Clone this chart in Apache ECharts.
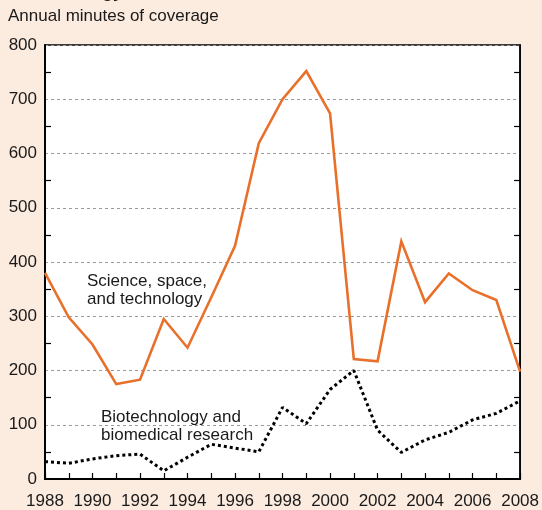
<!DOCTYPE html>
<html>
<head>
<meta charset="utf-8">
<script src="https://cdn.jsdelivr.net/npm/echarts@6/dist/echarts.min.js"></script>
<style>
  html, body { margin: 0; padding: 0; background: #fcebdf; }
  #chart { width: 542px; height: 510px; }
</style>
</head>
<body>
<div id="chart"></div>
<script>
// Annual network news minutes of coverage, 1988-2008
const years = [1988, 1989, 1990, 1991, 1992, 1993, 1994, 1995, 1996, 1997, 1998,
               1999, 2000, 2001, 2002, 2003, 2004, 2005, 2006, 2007, 2008];
const science = [380, 298, 248, 175, 183, 295, 242, 335, 430, 619, 700,
                 752, 674, 221, 217, 438, 326, 379, 348, 330, 198];
const biotech = [32, 29, 37, 43, 46, 15, 40, 64, 57, 50, 132,
                 102, 165, 200, 90, 49, 72, 86, 109, 121, 144];
const yTicks = [0, 100, 200, 300, 400, 500, 600, 700, 800];
const xTicks = [1988, 1990, 1992, 1994, 1996, 1998, 2000, 2002, 2004, 2006, 2008];

const FONT = '"Liberation Sans", Arial, Helvetica, sans-serif';
const pairs = vals => years.map((y, i) => [y, vals[i]]);

const chart = echarts.init(document.getElementById('chart'), null, { renderer: 'canvas' });

chart.setOption({
  backgroundColor: '#fcebdf',
  animation: false,
  grid: {
    left: 45, right: 20, top: 45, bottom: 30,
    show: true, backgroundColor: '#ffffff',
    borderColor: '#000', borderWidth: 1.5
  },
  xAxis: {
    type: 'value',
    min: xTicks[0], max: xTicks[xTicks.length - 1], interval: 2,
    axisLine: { show: true, lineStyle: { color: '#000', width: 2 } },
    axisTick: { show: true, inside: true, length: 6, lineStyle: { color: '#000', width: 1.2 } },
    minorTick: { show: true, splitNumber: 2, length: 6, lineStyle: { color: '#000', width: 1.2 } },
    splitLine: { show: false },
    axisLabel: {
      color: '#1a1a1a', fontSize: 17, fontFamily: FONT, margin: 14,
      formatter: v => String(v)
    }
  },
  yAxis: [{
    type: 'value', position: 'left',
    min: yTicks[0], max: yTicks[yTicks.length - 1], interval: 100,
    axisLine: { show: true, lineStyle: { color: '#000', width: 2 } },
    axisTick: { show: false, inside: true },
    minorTick: { show: true, splitNumber: 2, length: 6, lineStyle: { color: '#000', width: 1.2 } },
    splitLine: { show: true, lineStyle: { color: '#9a9a9a', width: 1, type: [3, 3] } },
    axisLabel: { color: '#1a1a1a', fontSize: 17, fontFamily: FONT, margin: 8 }
  }, {
    type: 'value', position: 'right',
    min: yTicks[0], max: yTicks[yTicks.length - 1], interval: 100,
    axisLine: { show: true, lineStyle: { color: '#000', width: 1.5 } },
    axisTick: { show: false, inside: true },
    minorTick: { show: true, splitNumber: 2, length: 6, lineStyle: { color: '#000', width: 1.2 } },
    splitLine: { show: false },
    axisLabel: { show: false }
  }],
  series: [{
    name: 'Science, space, and technology',
    type: 'line',
    data: pairs(science),
    symbol: 'none',
    lineStyle: { color: '#e8702a', width: 2.6, join: 'miter' },
    z: 3
  }, {
    name: 'Biotechnology and biomedical research',
    type: 'line',
    data: pairs(biotech),
    symbol: 'none',
    lineStyle: { color: '#000', width: 3, type: [3, 3], cap: 'butt' },
    z: 4
  }],
  graphic: [{
    type: 'text', left: 8, top: 8,
    style: { text: 'Annual minutes of coverage', fill: '#1a1a1a', font: '17px ' + FONT }
  }, {
    type: 'text', x: 123, y: -17,
    style: { text: 'Technology', fill: '#1a1a1a', font: 'bold 18px ' + FONT, align: 'right', verticalAlign: 'top' }
  }, {
    type: 'text', left: 87, top: 272,
    style: { text: 'Science, space,\nand technology', fill: '#1a1a1a', font: '17px ' + FONT, lineHeight: 18.5 }
  }, {
    type: 'text', left: 101, top: 409,
    style: { text: 'Biotechnology and\nbiomedical research', fill: '#1a1a1a', font: '17px ' + FONT, lineHeight: 17.5 }
  }]
});
</script>
</body>
</html>
